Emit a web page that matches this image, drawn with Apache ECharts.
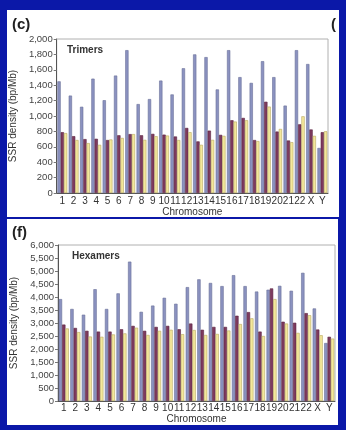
<!DOCTYPE html>
<html><head><meta charset="utf-8">
<script src="https://cdn.jsdelivr.net/npm/echarts@6/dist/echarts.min.js"></script>
<style>html,body{margin:0;padding:0;background:#0b18a8}#c{width:346px;height:430px}</style>
</head><body><div id="c"></div>
<script>
const categories = ['1','2','3','4','5','6','7','8','9','10','11','12','13','14','15','16','17','18','19','20','21','22','X','Y'];
const triBlue   = [1450,1265,1120,1485,1205,1525,1855,1155,1220,1460,1280,1620,1800,1765,1345,1855,1505,1430,1712,1505,1135,1855,1675,585];
const triMaroon = [790,738,700,704,688,750,765,750,768,758,734,845,670,810,755,945,975,688,1185,798,682,892,825,790];
const triYellow = [778,688,648,626,695,715,765,690,738,746,688,790,626,690,742,928,945,674,1122,832,660,996,742,802];
const hexBlue   = [3920,3540,3320,4300,3540,4140,5360,3430,3670,3970,3740,4380,4680,4540,4420,4840,4420,4210,4280,4430,4240,4930,3560,2230];
const hexMaroon = [2940,2810,2700,2670,2670,2760,2890,2700,2850,2890,2760,2980,2740,2850,2850,3280,3420,2670,4330,3050,3010,3380,2750,2470];
const hexYellow = [2790,2650,2480,2470,2560,2600,2820,2540,2700,2740,2570,2730,2540,2580,2710,2960,3180,2500,3920,2980,2620,3300,2530,2400];
const triTicks = [0,200,400,600,800,1000,1200,1400,1600,1800,2000];
const hexTicks = [0,500,1000,1500,2000,2500,3000,3500,4000,4500,5000,5500,6000];

const cBlue='#8b92c0', cMaroon='#7e3a5e', cYellow='#f3e79b';
const fmt = v => v.toLocaleString('en-US');
const chart = echarts.init(document.getElementById('c'), null, {renderer:'canvas'});

function xAx(gi, margin){
  return {type:'category', gridIndex:gi, data:categories,
    axisLine:{lineStyle:{color:'#555',width:1}}, axisTick:{show:false},
    axisLabel:{interval:0, color:'#333', fontSize:10, margin:margin, fontFamily:'Liberation Sans'},
    name:'Chromosome', nameLocation:'middle', nameGap:12,
    nameTextStyle:{color:'#333', fontSize:10, fontFamily:'Liberation Sans'}};
}
function yAx(gi, ticks, gap){
  return {type:'value', gridIndex:gi, min:ticks[0], max:ticks[ticks.length-1], interval:ticks[1]-ticks[0],
    axisLine:{show:true, lineStyle:{color:'#555',width:1}},
    axisTick:{show:true, length:3, lineStyle:{color:'#777'}},
    splitLine:{show:false},
    axisLabel:{color:'#444', fontSize:9.5, margin:4, formatter:fmt, fontFamily:'Liberation Sans'},
    name:'SSR density (bp/Mb)', nameLocation:'middle', nameGap:gap, nameRotate:90,
    nameTextStyle:{color:'#333', fontSize:10, fontFamily:'Liberation Sans'}};
}
function ser(gi, data, color, border){
  return {type:'bar', xAxisIndex:gi, yAxisIndex:gi, data:data, barWidth:'29%', barGap:'0%',
    itemStyle:{color:color, borderColor:border, borderWidth:0.6}, silent:true, animation:false};
}
const blueFrame = '#0b18a8';
chart.setOption({
  animation:false,
  backgroundColor: blueFrame,
  textStyle:{fontFamily:'Liberation Sans'},
  grid:[
    {left:53, right:18, top:39, bottom:237, show:true, borderColor:'#b0b0b0', borderWidth:1, backgroundColor:'transparent'},
    {left:58, right:11, top:245, bottom:29, show:true, borderColor:'#b0b0b0', borderWidth:1, backgroundColor:'transparent'}
  ],
  xAxis:[xAx(0,3), xAx(1,2)],
  yAxis:[yAx(0,triTicks,30), yAx(1,hexTicks,35)],
  series:[
    ser(0,triBlue,cBlue,'#6a7098'), ser(0,triMaroon,cMaroon,'#5a2440'), ser(0,triYellow,cYellow,'#b8a860'),
    ser(1,hexBlue,cBlue,'#6a7098'), ser(1,hexMaroon,cMaroon,'#5a2440'), ser(1,hexYellow,cYellow,'#b8a860')
  ],
  graphic:[
    {type:'rect', z:-10, shape:{x:7,y:9,width:332,height:208}, style:{fill:'#fff'}},
    {type:'rect', z:-10, shape:{x:7,y:219,width:331,height:206}, style:{fill:'#fff'}},
    {type:'text', z:50, left:160, top:1, style:{text:'Chromosome', fill:'#333', font:'10px Liberation Sans'}},
    {type:'text', z:50, left:331, top:17, style:{text:'(', fill:'#222', font:'bold 15px Liberation Sans'}},
    {type:'rect', z:100, shape:{x:0,y:0,width:346,height:10}, style:{fill:blueFrame}},
    {type:'rect', z:100, shape:{x:339,y:0,width:7,height:430}, style:{fill:blueFrame}},
    {type:'text', z:50, left:12, top:17, style:{text:'(c)', fill:'#222', font:'bold 15px Liberation Sans'}},
    {type:'text', z:50, left:67, top:45, style:{text:'Trimers', fill:'#333', font:'bold 10px Liberation Sans'}},
    {type:'text', z:50, left:12, top:225, style:{text:'(f)', fill:'#222', font:'bold 15px Liberation Sans'}},
    {type:'text', z:50, left:72, top:251, style:{text:'Hexamers', fill:'#333', font:'bold 10px Liberation Sans'}}
  ]
});
</script></body></html>
